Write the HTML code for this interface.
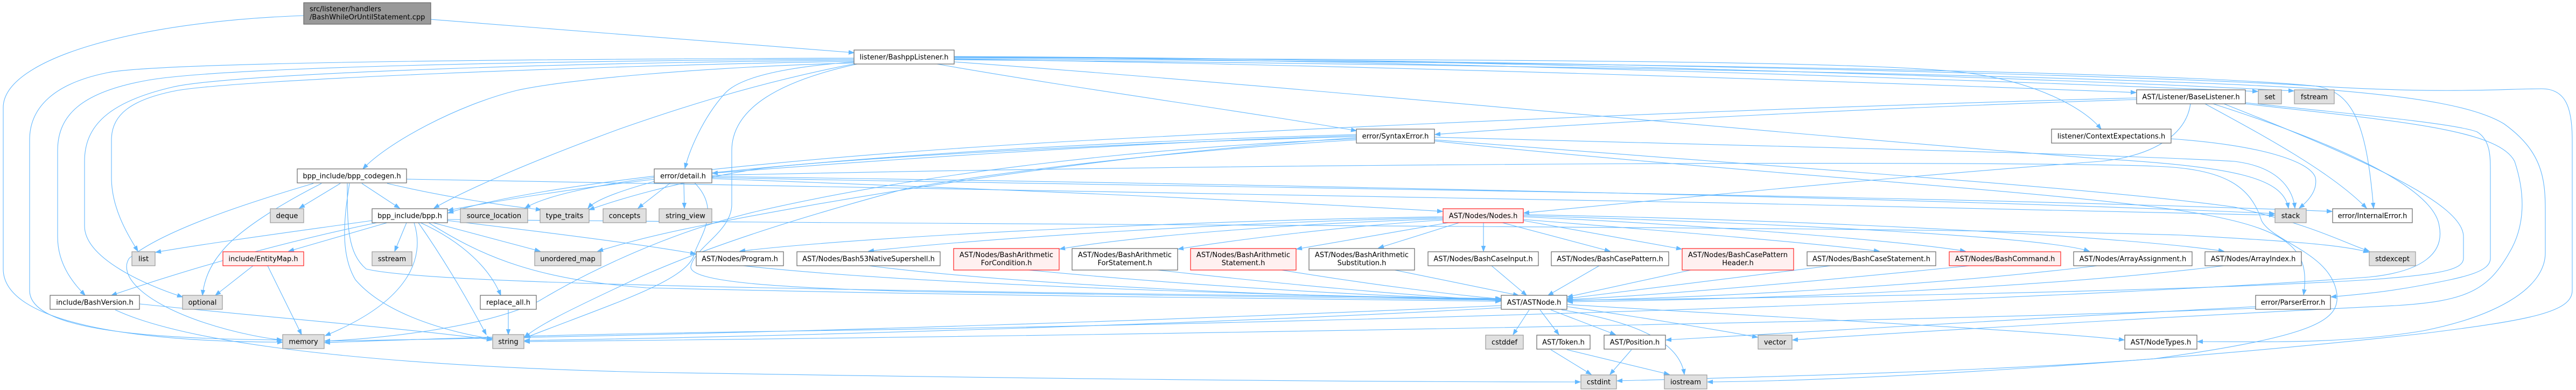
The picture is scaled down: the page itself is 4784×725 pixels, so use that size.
<!DOCTYPE html>
<html><head><meta charset="utf-8"><style>
html,body{margin:0;padding:0;background:#fff;}
svg{display:block;}
text{font-family:"DejaVu Sans","Liberation Sans",sans-serif;font-size:13px;fill:#000;}
.e{fill:none;stroke:#63b8ff;stroke-width:1.1;marker-end:url(#a);}
.w{fill:#fff;stroke:#666;stroke-width:1.2;}
.g{fill:#e0e0e0;stroke:#999;stroke-width:1.2;}
.r{fill:#fff0f0;stroke:#ff2020;stroke-width:1.2;}
.t{fill:#999;stroke:#666;stroke-width:1.2;}
</style></head><body>
<svg width="4784" height="725" viewBox="0 0 4784 725" xmlns="http://www.w3.org/2000/svg">
<defs><marker id="a" markerWidth="11" markerHeight="9" refX="10" refY="4" orient="auto" markerUnits="userSpaceOnUse"><path d="M0,0.3 L10,4 L0,7.7 z" fill="#63b8ff" stroke="#63b8ff"/></marker></defs>
<g>
<!-- top file -->
<path class="e" d="M800,36 C1100,60 1400,85 1586,98"/>
<path class="e" d="M564,29 C250,40 6,110 6,200 L6,500 C6,600 250,636 525,636"/>
<!-- BashppListener left -->
<path class="e" d="M1586,108 C1000,110 300,115 200,135 C100,155 55,200 55,260 L55,540 C55,610 250,630 525,632"/>
<path class="e" d="M1586,110 C1000,113 400,125 270,150 C150,172 107,215 107,280 L107,440 C107,495 140,530 158,549"/>
<path class="e" d="M1586,112 C1000,117 420,138 320,162 C200,190 157,235 157,300 L157,420 C157,480 270,530 339,552"/>
<path class="e" d="M1586,114 C1100,122 450,148 330,168 C240,185 207,215 207,260 L207,330 C207,390 240,440 256,467"/>
<path class="e" d="M1586,117 C1300,125 1050,148 960,168 C850,195 720,265 674,314"/>
<path class="e" d="M1590,118 C1400,155 1250,205 1150,240 C1000,295 870,350 806,387"/>
<path class="e" d="M1588,115 C1450,125 1370,145 1345,175 C1305,220 1280,280 1272,313"/>
<path class="e" d="M1592,119 C1450,150 1359,200 1359,280 L1359,380 C1359,430 1290,460 1283,495 C1278,525 1450,535 1700,542 C2200,552 2600,556 2787,558"/>
<!-- BashppListener right -->
<path class="e" d="M1740,119 C2000,165 2300,205 2519,243"/>
<path class="e" d="M1772,110 C2500,120 3400,150 3967,172"/>
<path class="e" d="M1772,106 C2600,110 3700,150 4193,170"/>
<path class="e" d="M1772,105 C2700,108 3800,145 4260,169"/>
<path class="e" d="M1772,107 C2600,112 3450,110 3650,135 C3780,152 3870,200 3902,240"/>
<path class="e" d="M1772,109 C2800,115 4000,130 4300,160 C4370,170 4395,230 4408,387"/>
<path class="e" d="M1772,106 C2800,110 4000,140 4300,160 C4550,175 4650,165 4720,165 C4765,165 4777,200 4777,260 L4777,540 C4777,580 4700,595 4500,620 C4100,665 3500,708 3171,710"/>
<path class="e" d="M1772,111 C2800,120 3900,140 4300,165 C4500,180 4600,200 4650,230 C4720,280 4727,330 4727,390 L4727,470 C4727,530 4650,585 4500,615 C4350,640 4200,635 4081,635"/>
<path class="e" d="M1772,115 C2400,160 3200,240 3900,295 C4150,310 4240,330 4250,387"/>
<!-- SyntaxError -->
<path class="e" d="M2664,255 C3200,270 3900,285 4150,300 C4230,310 4258,350 4262,387"/>
<path class="e" d="M2664,262 C3200,320 3900,360 4100,400 C4260,430 4290,470 4278,548"/>
<path class="e" d="M2664,260 C3300,310 3900,350 4150,385 C4300,420 4350,450 4400,467"/>
<path class="e" d="M2519,250 C2000,265 1300,300 832,391"/>
<path class="e" d="M2519,252 C2100,265 1600,300 1323,322"/>
<path class="e" d="M2519,254 C2000,268 1500,300 1400,315 C1250,340 1150,370 1094,390"/>
<path class="e" d="M2519,258 C2100,275 1700,325 1405,393 C1250,430 1100,500 1000,560 C900,610 700,630 603,634"/>
<path class="e" d="M2519,260 C2100,285 1800,330 1685,350 C1500,400 1300,460 1150,533 C1050,580 1000,605 974,627"/>
<path class="e" d="M2519,256 C2000,290 1500,380 1300,420 C1200,440 1150,455 1110,467"/>
<!-- detail -->
<path class="e" d="M1322,330 C2000,345 3500,360 4331,393"/>
<path class="e" d="M1322,328 C2200,340 3500,365 4224,397"/>
<path class="e" d="M1215,330 C1100,345 1010,365 975,387"/>
<path class="e" d="M1220,336 C1150,355 1105,372 1092,387"/>
<path class="e" d="M1245,340 L1185,387"/>
<path class="e" d="M1270,340 L1271,387"/>
<path class="e" d="M1290,340 C1340,390 1300,440 1290,470 C1280,520 1150,560 975,628"/>
<path class="e" d="M1322,332 C1800,350 2300,370 2679,393"/>
<path class="e" d="M1322,326 C2500,300 3800,300 4000,309 C4135,313 4180,348 4200,410 C4220,450 4330,470 4340,547 C4345,596 4300,625 4000,667 C3700,690 3300,700 3003,708"/>
<!-- codegen -->
<path class="e" d="M582,341 C450,380 300,430 240,480 C220,510 260,560 380,600 C440,620 500,630 524,632"/>
<path class="e" d="M597,341 C520,380 440,430 410,470 C385,500 378,530 376,549"/>
<path class="e" d="M632,341 L556,387"/>
<path class="e" d="M672,341 L742,387"/>
<path class="e" d="M719,341 C800,360 900,378 1005,390"/>
<path class="e" d="M649,341 C640,400 630,470 660,520 C720,590 850,620 914,630"/>
<path class="e" d="M645,341 C645,420 645,470 680,500 C800,530 1600,540 2787,555"/>
<path class="e" d="M755,333 C1500,345 3000,370 4224,400"/>
<!-- bpp.h -->
<path class="e" d="M691,410 C550,430 400,450 289,469"/>
<path class="e" d="M700,414 C550,445 380,490 207,549"/>
<path class="e" d="M719,414 L536,467"/>
<path class="e" d="M755,414 L733,467"/>
<path class="e" d="M769,414 C790,480 760,560 604,624"/>
<path class="e" d="M777,414 C830,490 870,560 903,622"/>
<path class="e" d="M781,414 C860,450 910,500 930,549"/>
<path class="e" d="M804,414 L1003,467"/>
<path class="e" d="M831,410 C1000,430 1200,455 1292,472"/>
<path class="e" d="M796,414 C900,480 1000,520 1200,535 C1800,550 2400,555 2787,560"/>
<path class="e" d="M831,408 C2000,420 3500,420 4050,437 C4250,448 4350,455 4399,469"/>
<!-- EntityMap / replace_all / BashVersion -->
<path class="e" d="M470,494 L400,549"/>
<path class="e" d="M497,494 L560,622"/>
<path class="e" d="M944,576 L944,622"/>
<path class="e" d="M259,565 C500,590 800,615 914,632"/>
<path class="e" d="M214,576 C350,640 700,680 1200,692 C1800,702 2400,710 2935,710"/>
<!-- BaseListener -->
<path class="e" d="M3968,185 C3500,200 3000,225 2665,250"/>
<path class="e" d="M3968,182 C3300,200 2600,230 2000,262 C1500,290 1000,340 832,396"/>
<path class="e" d="M4068,193 C4060,250 4000,290 3900,300 C3500,330 3100,370 2830,396"/>
<path class="e" d="M4095,193 C4200,250 4330,320 4395,387"/>
<path class="e" d="M4130,193 C4400,300 4575,380 4575,440 L4575,480 C4575,500 4540,510 4400,520 C4000,545 3200,555 2911,558"/>
<path class="e" d="M4170,191 C4400,215 4560,230 4600,245 C4625,260 4625,290 4625,320 L4625,480 C4625,505 4580,515 4500,530 C4420,545 4370,548 4329,552"/>
<path class="e" d="M4170,193 C4450,225 4640,240 4670,300 C4690,360 4690,420 4660,470 C4620,540 4580,560 4450,568 C4000,590 3500,620 3329,632"/>
<path class="e" d="M4110,193 C4350,270 4520,350 4530,420 C4540,470 4500,505 4400,515 C3800,560 2500,600 1500,615 C1000,622 800,630 603,637"/>
<path class="e" d="M4032,258 C4200,270 4290,300 4300,330 C4305,355 4285,375 4270,387"/>
<!-- Nodes.h children -->
<path class="e" d="M2680,403 C2200,410 1600,440 1374,467"/>
<path class="e" d="M2680,405 C2300,412 1800,445 1613,467"/>
<path class="e" d="M2680,407 C2400,415 2100,440 1968,463"/>
<path class="e" d="M2680,409 C2500,420 2300,445 2188,463"/>
<path class="e" d="M2690,414 C2600,430 2480,450 2408,463"/>
<path class="e" d="M2710,414 L2560,461"/>
<path class="e" d="M2755,414 L2755,467"/>
<path class="e" d="M2790,414 L2990,467"/>
<path class="e" d="M2829,410 L3123,463"/>
<path class="e" d="M2829,408 C3100,430 3350,450 3490,467"/>
<path class="e" d="M2829,403 C3200,420 3550,450 3650,467"/>
<path class="e" d="M2829,401 C3300,415 3800,440 3880,467"/>
<path class="e" d="M2829,399 C3400,410 3950,440 4130,467"/>
<!-- children to ASTNode -->
<path class="e" d="M1380,494 C1700,530 2400,550 2787,556"/>
<path class="e" d="M1613,494 C1900,530 2400,552 2787,557"/>
<path class="e" d="M1910,502 C2200,530 2500,548 2787,558"/>
<path class="e" d="M2150,502 C2400,530 2600,548 2787,559"/>
<path class="e" d="M2380,502 C2550,530 2700,548 2789,556"/>
<path class="e" d="M2590,502 L2820,549"/>
<path class="e" d="M2770,494 L2835,549"/>
<path class="e" d="M2970,494 L2875,549"/>
<path class="e" d="M3140,502 L2911,552"/>
<path class="e" d="M3400,494 C3200,520 3000,545 2911,555"/>
<path class="e" d="M3658,494 C3400,520 3100,548 2911,557"/>
<path class="e" d="M3895,494 C3600,530 3200,552 2911,559"/>
<path class="e" d="M4130,494 C3800,535 3300,556 2911,561"/>
<!-- ASTNode -->
<path class="e" d="M2840,576 L2810,622"/>
<path class="e" d="M2860,576 L2895,622"/>
<path class="e" d="M2880,576 L3000,622"/>
<path class="e" d="M2910,570 C3050,590 3200,615 3264,627"/>
<path class="e" d="M2900,576 C3050,600 3120,640 3128,696"/>
<path class="e" d="M2910,566 C3300,590 3800,615 3945,632"/>
<path class="e" d="M2788,568 C2300,590 1500,620 603,634"/>
<path class="e" d="M2788,572 C2300,600 1500,625 974,633"/>
<path class="e" d="M2880,650 L2955,696"/>
<path class="e" d="M2910,650 L3100,696"/>
<path class="e" d="M3030,650 L2990,696"/>
<!-- ParserError -->
<path class="e" d="M4189,570 C3800,590 3300,620 3094,632"/>
<path class="e" d="M4189,573 C3500,600 2000,625 974,635"/>
</g>
<g>
<rect class="t" x="564" y="5" width="236" height="40"/>
<text x="575" y="21">src/listener/handlers</text><text x="575" y="36">/BashWhileOrUntilStatement.cpp</text>

<rect class="w" x="1586" y="93" width="186" height="26"/><text x="1679" y="110.5" text-anchor="middle">listener/BashppListener.h</text>
<rect class="w" x="3968" y="167" width="202" height="26"/><text x="4069" y="184.5" text-anchor="middle">AST/Listener/BaseListener.h</text>
<rect class="g" x="4194" y="167" width="43" height="26"/><text x="4215.5" y="184.5" text-anchor="middle">set</text>
<rect class="g" x="4261" y="167" width="74" height="26"/><text x="4298" y="184.5" text-anchor="middle">fstream</text>
<rect class="w" x="2519" y="240" width="145" height="26"/><text x="2591.5" y="257.5" text-anchor="middle">error/SyntaxError.h</text>
<rect class="w" x="3810" y="240" width="222" height="26"/><text x="3921" y="257.5" text-anchor="middle">listener/ContextExpectations.h</text>
<rect class="w" x="552" y="314" width="203" height="26"/><text x="653.5" y="331.5" text-anchor="middle">bpp_include/bpp_codegen.h</text>
<rect class="w" x="1215" y="314" width="107" height="26"/><text x="1268.5" y="331.5" text-anchor="middle">error/detail.h</text>

<rect class="g" x="502" y="388" width="62" height="26"/><text x="533" y="405.5" text-anchor="middle">deque</text>
<rect class="w" x="691" y="388" width="140" height="26"/><text x="761" y="405.5" text-anchor="middle">bpp_include/bpp.h</text>
<rect class="g" x="855" y="388" width="125" height="26"/><text x="917.5" y="405.5" text-anchor="middle">source_location</text>
<rect class="g" x="1003" y="388" width="91" height="26"/><text x="1048.5" y="405.5" text-anchor="middle">type_traits</text>
<rect class="g" x="1120" y="388" width="80" height="26"/><text x="1160" y="405.5" text-anchor="middle">concepts</text>
<rect class="g" x="1224" y="388" width="98" height="26"/><text x="1273" y="405.5" text-anchor="middle">string_view</text>
<rect class="r" x="2680" y="388" width="149" height="26"/><text x="2754.5" y="405.5" text-anchor="middle">AST/Nodes/Nodes.h</text>
<rect class="g" x="4225" y="388" width="58" height="26"/><text x="4254" y="405.5" text-anchor="middle">stack</text>
<rect class="w" x="4332" y="388" width="148" height="26"/><text x="4406" y="405.5" text-anchor="middle">error/InternalError.h</text>

<rect class="g" x="245" y="468" width="43" height="26"/><text x="266.5" y="485.5" text-anchor="middle">list</text>
<rect class="r" x="414" y="468" width="150" height="26"/><text x="489" y="485.5" text-anchor="middle">include/EntityMap.h</text>
<rect class="g" x="691" y="468" width="74" height="26"/><text x="728" y="485.5" text-anchor="middle">sstream</text>
<rect class="g" x="993" y="468" width="123" height="26"/><text x="1054.5" y="485.5" text-anchor="middle">unordered_map</text>
<rect class="w" x="1293" y="468" width="162" height="26"/><text x="1374" y="485.5" text-anchor="middle">AST/Nodes/Program.h</text>
<rect class="w" x="1480" y="468" width="266" height="26"/><text x="1613" y="485.5" text-anchor="middle">AST/Nodes/Bash53NativeSupershell.h</text>
<rect class="r" x="1771" y="462" width="196" height="40"/><text x="1869" y="478" text-anchor="middle">AST/Nodes/BashArithmetic</text><text x="1869" y="493" text-anchor="middle">ForCondition.h</text>
<rect class="w" x="1991" y="462" width="196" height="40"/><text x="2089" y="478" text-anchor="middle">AST/Nodes/BashArithmetic</text><text x="2089" y="493" text-anchor="middle">ForStatement.h</text>
<rect class="r" x="2211" y="462" width="196" height="40"/><text x="2309" y="478" text-anchor="middle">AST/Nodes/BashArithmetic</text><text x="2309" y="493" text-anchor="middle">Statement.h</text>
<rect class="w" x="2431" y="462" width="196" height="40"/><text x="2529" y="478" text-anchor="middle">AST/Nodes/BashArithmetic</text><text x="2529" y="493" text-anchor="middle">Substitution.h</text>
<rect class="w" x="2652" y="468" width="205" height="26"/><text x="2754.5" y="485.5" text-anchor="middle">AST/Nodes/BashCaseInput.h</text>
<rect class="w" x="2881" y="468" width="218" height="26"/><text x="2990" y="485.5" text-anchor="middle">AST/Nodes/BashCasePattern.h</text>
<rect class="r" x="3124" y="462" width="207" height="40"/><text x="3227.5" y="478" text-anchor="middle">AST/Nodes/BashCasePattern</text><text x="3227.5" y="493" text-anchor="middle">Header.h</text>
<rect class="w" x="3356" y="468" width="239" height="26"/><text x="3475.5" y="485.5" text-anchor="middle">AST/Nodes/BashCaseStatement.h</text>
<rect class="r" x="3620" y="468" width="207" height="26"/><text x="3723.5" y="485.5" text-anchor="middle">AST/Nodes/BashCommand.h</text>
<rect class="w" x="3851" y="468" width="220" height="26"/><text x="3961" y="485.5" text-anchor="middle">AST/Nodes/ArrayAssignment.h</text>
<rect class="w" x="4095" y="468" width="179" height="26"/><text x="4184.5" y="485.5" text-anchor="middle">AST/Nodes/ArrayIndex.h</text>
<rect class="g" x="4400" y="468" width="86" height="26"/><text x="4443" y="485.5" text-anchor="middle">stdexcept</text>

<rect class="w" x="93" y="549" width="166" height="26"/><text x="176" y="566.5" text-anchor="middle">include/BashVersion.h</text>
<rect class="g" x="339" y="549" width="74" height="26"/><text x="376" y="566.5" text-anchor="middle">optional</text>
<rect class="w" x="892" y="549" width="104" height="26"/><text x="944" y="566.5" text-anchor="middle">replace_all.h</text>
<rect class="w" x="2788" y="549" width="122" height="26"/><text x="2849" y="566.5" text-anchor="middle">AST/ASTNode.h</text>
<rect class="w" x="4189" y="549" width="139" height="26"/><text x="4258.5" y="566.5" text-anchor="middle">error/ParserError.h</text>

<rect class="g" x="525" y="622" width="77" height="26"/><text x="563.5" y="639.5" text-anchor="middle">memory</text>
<rect class="g" x="915" y="622" width="58" height="26"/><text x="944" y="639.5" text-anchor="middle">string</text>
<rect class="g" x="2759" y="623" width="70" height="26"/><text x="2794" y="640.5" text-anchor="middle">cstddef</text>
<rect class="w" x="2854" y="623" width="99" height="26"/><text x="2903.5" y="640.5" text-anchor="middle">AST/Token.h</text>
<rect class="w" x="2979" y="623" width="114" height="26"/><text x="3036" y="640.5" text-anchor="middle">AST/Position.h</text>
<rect class="g" x="3265" y="623" width="63" height="26"/><text x="3296.5" y="640.5" text-anchor="middle">vector</text>
<rect class="w" x="3946" y="623" width="134" height="26"/><text x="4013" y="640.5" text-anchor="middle">AST/NodeTypes.h</text>

<rect class="g" x="2936" y="697" width="66" height="26"/><text x="2969" y="714.5" text-anchor="middle">cstdint</text>
<rect class="g" x="3091" y="697" width="79" height="26"/><text x="3130.5" y="714.5" text-anchor="middle">iostream</text>
</g>
</svg>
</body></html>
